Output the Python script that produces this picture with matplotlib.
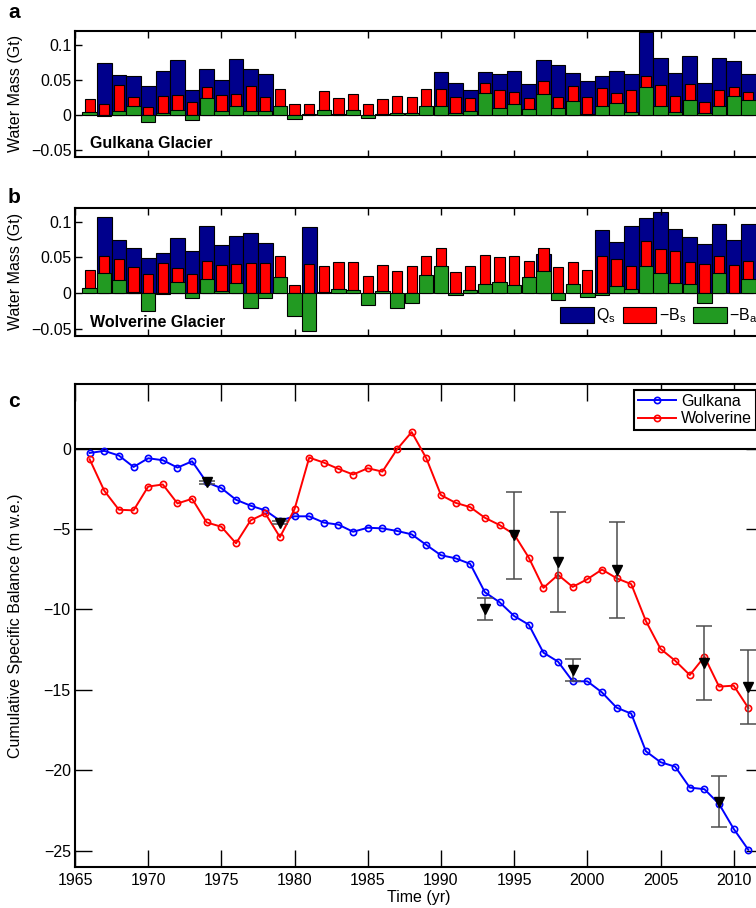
import numpy as np
import matplotlib.pyplot as plt
from matplotlib.patches import Patch

plt.rcParams['font.family'] = ['Liberation Sans', 'DejaVu Sans']
plt.rcParams['mathtext.fontset'] = 'custom'
plt.rcParams['mathtext.rm'] = 'Liberation Sans'

years = np.arange(1966, 2012)
nan = np.nan

# panel a - Gulkana (Gt)
gul_qs = [nan, 0.0745, 0.057, 0.0557, 0.0406, 0.063, 0.078, 0.036, 0.066, 0.050,
          0.080, 0.066, 0.059, nan, nan, nan, nan, nan, nan, nan,
          nan, nan, nan, nan, 0.061, 0.045, 0.036, 0.061, 0.0585, 0.063,
          0.044, 0.078, 0.0717, 0.060, 0.0486, 0.0557, 0.0623, 0.0585, 0.118, 0.082,
          0.060, 0.0845, 0.0458, 0.0807, 0.0774, 0.0585]
gul_bs = [0.023, 0.016, 0.042, 0.026, 0.011, 0.027, 0.029, 0.019, 0.040, 0.028,
          0.030, 0.0415, 0.0255, 0.037, 0.016, 0.016, 0.0335, 0.0236, 0.030, 0.016,
          0.022, 0.027, 0.026, 0.037, 0.037, 0.026, 0.024, 0.046, 0.036, 0.033,
          0.0245, 0.049, 0.026, 0.0406, 0.0255, 0.0387, 0.031, 0.036, 0.055, 0.043,
          0.027, 0.044, 0.019, 0.035, 0.040, 0.0325]
gul_ba = [0.0047, -0.0024, 0.005, 0.0127, -0.0099, 0.002, 0.0075, -0.0075, 0.024, 0.005,
          0.0127, 0.006, 0.005, 0.012, -0.006, 0.001, 0.007, 0.0015, 0.0075, -0.0047,
          0.001, 0.003, 0.003, 0.012, 0.012, 0.003, 0.0057, 0.031, 0.0104, 0.0156,
          0.0085, 0.030, 0.0094, 0.020, 0.0005, 0.012, 0.0165, 0.0047, 0.040, 0.012,
          0.004, 0.021, 0.002, 0.013, 0.027, 0.021]

# panel b - Wolverine (Gt)
wol_qs = [nan, 0.1075, 0.074, 0.063, 0.049, 0.057, 0.078, 0.059, 0.094, 0.067,
          0.080, 0.084, 0.071, nan, nan, 0.093, nan, nan, nan, nan,
          nan, nan, nan, nan, nan, nan, nan, nan, nan, nan,
          nan, 0.0547, nan, nan, nan, 0.089, 0.072, 0.094, 0.1057, 0.1137,
          0.090, 0.079, 0.069, 0.0976, 0.0745, 0.097]
wol_bs = [0.033, 0.0514, 0.0476, 0.036, 0.027, 0.042, 0.035, 0.027, 0.045, 0.039,
          0.041, 0.0425, 0.042, 0.052, 0.011, 0.0415, 0.0387, 0.044, 0.044, 0.0236,
          0.040, 0.0316, 0.0377, 0.052, 0.063, 0.030, 0.0377, 0.054, 0.051, 0.0514,
          0.0448, 0.063, 0.036, 0.044, 0.033, 0.052, 0.048, 0.0387, 0.0726, 0.0623,
          0.0585, 0.044, 0.0415, 0.0524, 0.040, 0.045]
wol_ba = [0.007, 0.0288, 0.0184, 0.001, -0.0255, -0.0015, 0.0156, -0.0075, 0.020, 0.0033,
          0.014, -0.0208, -0.0066, 0.022, -0.0325, -0.053, 0.0014, 0.005, 0.0042, -0.0175,
          0.0024, -0.021, -0.0137, 0.025, 0.0377, -0.0024, 0.0038, 0.0127, 0.0156, 0.0118,
          0.0226, 0.0307, -0.0094, 0.0123, -0.0057, -0.0033, 0.010, 0.006, 0.0377, 0.0288,
          0.014, 0.0132, -0.0146, 0.0283, 0.0005, 0.0193]

# panel c - cumulative specific balance (m w.e.)
gul_cum = [-0.27, -0.14, -0.43, -1.14, -0.6, -0.72, -1.18, -0.79, -2.1, -2.46,
           -3.18, -3.55, -3.84, -4.48, -4.21, -4.21, -4.6, -4.73, -5.17, -4.92,
           -4.96, -5.12, -5.33, -5.99, -6.63, -6.82, -7.17, -8.93, -9.55, -10.41,
           -10.95, -12.69, -13.25, -14.47, -14.47, -15.16, -16.11, -16.48, -18.82, -19.5,
           -19.78, -21.08, -21.18, -22.1, -23.65, -24.95]
wol_cum = [-0.66, -2.62, -3.8, -3.84, -2.36, -2.23, -3.41, -3.12, -4.59, -4.86,
           -5.89, -4.46, -4.03, -5.5, -3.76, -0.56, -0.87, -1.26, -1.61, -1.22,
           -1.43, -0.04, 1.03, -0.6, -2.89, -3.37, -3.64, -4.3, -4.75, -5.33,
           -6.78, -8.66, -7.85, -8.6, -8.12, -7.52, -8.06, -8.43, -10.72, -12.45,
           -13.19, -14.08, -12.94, -14.8, -14.74, -16.13]

# geodetic estimates
gul_geo_yr = [1974, 1979, 1993, 1999, 2009]
gul_geo = [-2.1, -4.6, -9.98, -13.77, -21.95]
gul_geo_err = [0.1, 0.1, 0.7, 0.7, 1.6]
wol_geo_yr = [1995, 1998, 2002, 2008, 2011]
wol_geo = [-5.4, -7.07, -7.54, -13.36, -14.85]
wol_geo_err = [2.7, 3.1, 3.0, 2.3, 2.3]

c_blue = '#00008c'
c_red = '#ff0000'
c_green = '#229a22'

W, H = 756, 908
fig = plt.figure(figsize=(W / 100, H / 100), dpi=100)

def rect(left, top, right, bottom):
    return [left / W, 1 - bottom / H, (right - left) / W, (bottom - top) / H]

ax_a = fig.add_axes(rect(75, 31, 763, 156.7))
ax_b = fig.add_axes(rect(75, 207.7, 763, 335.7))
ax_c = fig.add_axes(rect(75, 384.3, 763, 866.7))

def bar_panel(ax, qs, bs, ba, name):
    ax.bar(years, qs, width=1.0, color=c_blue, edgecolor='k', linewidth=0.8)
    ax.bar(years, bs, width=0.7, color=c_red, edgecolor='k', linewidth=0.8)
    ax.bar(years, ba, width=0.98, color=c_green, edgecolor='k', linewidth=0.8)
    ax.set_xlim(1965, 2012)
    ax.set_ylim(-0.06, 0.12)
    ax.set_xticks(np.arange(1965, 2011, 5))
    ax.set_xticklabels([])
    ax.set_yticks([-0.05, 0, 0.05, 0.1])
    ax.set_yticklabels(['\u22120.05', '0', '0.05', '0.1'])
    ax.tick_params(direction='in', top=True, right=True, length=5, width=1,
                   labelsize=11.5, pad=2.5)
    for s in ax.spines.values():
        s.set_linewidth(1.5)
    ax.set_ylabel('Water Mass (Gt)', fontsize=11.5)
    ax.yaxis.set_label_coords(-0.0756, 0.5)
    ax.text(0.022, 0.07, name, transform=ax.transAxes, fontsize=11.5,
            fontweight='bold', ha='left', va='baseline')

bar_panel(ax_a, gul_qs, gul_bs, gul_ba, 'Gulkana Glacier')
bar_panel(ax_b, wol_qs, wol_bs, wol_ba, 'Wolverine Glacier')

handles = [Patch(facecolor=c_blue, edgecolor='k', linewidth=0.8),
           Patch(facecolor=c_red, edgecolor='k', linewidth=0.8),
           Patch(facecolor=c_green, edgecolor='k', linewidth=0.8)]
ax_b.legend(handles, [r'$\mathregular{Q_s}$', r'$\mathregular{-B_s}$', r'$\mathregular{-B_a}$'],
            loc='lower left', bbox_to_anchor=(0.705, 0.08), ncol=3, frameon=False,
            fontsize=11.5, handlelength=2.1, handleheight=1.1, handletextpad=0.15,
            columnspacing=0.45, borderpad=0, borderaxespad=0)

# panel c
ax_c.axhline(0, color='k', linewidth=1.5)
ax_c.plot(years, gul_cum, '-o', color='#0000ff', linewidth=1.4, markersize=4.5,
          markerfacecolor='none', markeredgewidth=1.2, label='Gulkana')
ax_c.plot(years, wol_cum, '-o', color='#ff0000', linewidth=1.4, markersize=4.5,
          markerfacecolor='none', markeredgewidth=1.2, label='Wolverine')
for yr, val, err in [(gul_geo_yr, gul_geo, gul_geo_err), (wol_geo_yr, wol_geo, wol_geo_err)]:
    ax_c.errorbar(yr, val, yerr=err, fmt='none', ecolor='0.3', elinewidth=1.1,
                  capsize=6, capthick=1.1, zorder=4)
    ax_c.plot(yr, val, 'v', color='k', markersize=6.5, zorder=5)

ax_c.set_xlim(1965, 2012)
ax_c.set_ylim(-26, 4)
ax_c.set_xticks(np.arange(1965, 2011, 5))
ax_c.set_yticks(np.arange(-25, 1, 5))
ax_c.set_yticklabels(['\u221225', '\u221220', '\u221215', '\u221210', '\u22125', '0'])
ax_c.tick_params(direction='in', top=True, right=True, length=12, width=1,
                 labelsize=11.5, pad=3)
ax_c.tick_params(axis='x', pad=4.5)
for s in ax_c.spines.values():
    s.set_linewidth(1.5)
ax_c.set_ylabel('Cumulative Specific Balance (m w.e.)', fontsize=11.5)
ax_c.yaxis.set_label_coords(-0.0756, 0.5)
ax_c.set_xlabel('Time (yr)', fontsize=11.5)
ax_c.xaxis.set_label_coords(0.5, -0.048)
leg = ax_c.legend(loc='upper right', bbox_to_anchor=(0.99, 0.988), fontsize=11.5,
                  fancybox=False, framealpha=1, edgecolor='k', handlelength=2.4,
                  borderpad=0.25, labelspacing=0.15, handletextpad=0.3, borderaxespad=0)
leg.get_frame().set_linewidth(1.5)

fig.text(8 / W, 1 - 18 / H, 'a', fontsize=15, fontweight='bold', va='baseline')
fig.text(8 / W, 1 - 203 / H, 'b', fontsize=15, fontweight='bold', va='baseline')
fig.text(8 / W, 1 - 407 / H, 'c', fontsize=15, fontweight='bold', va='baseline')

fig.savefig('out.png', dpi=100)
